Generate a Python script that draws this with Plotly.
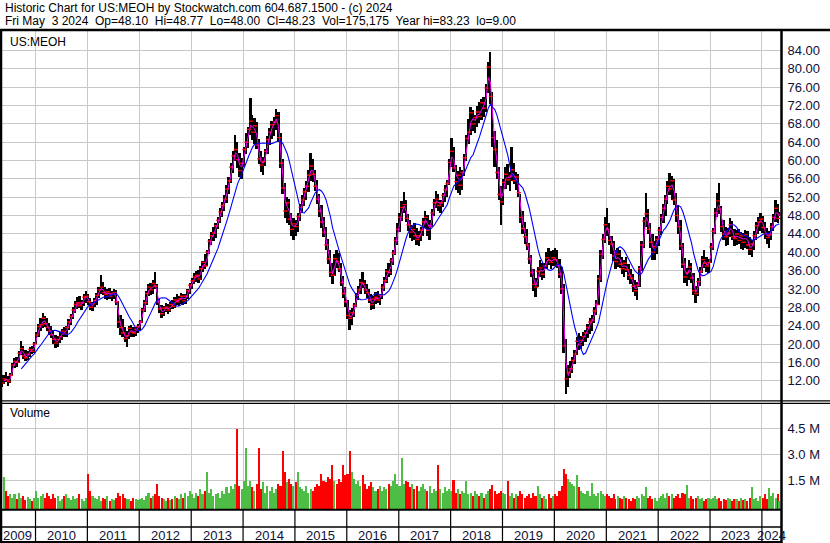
import plotly.graph_objects as go
import pandas as pd

HEADER_1 = "Historic Chart for US:MEOH by Stockwatch.com 604.687.1500 - (c) 2024"
HEADER_2 = "Fri May  3 2024  Op=48.10  Hi=48.77  Lo=48.00  Cl=48.23  Vol=175,175  Year hi=83.23  lo=9.00"
SYMBOL = "US:MEOH"
VOLUME_TITLE = "Volume"

# Semi-monthly bars (1st half / 2nd half of each month), May 2009 .. May 3 2024
FIRST_YEAR, FIRST_MONTH = 2009, 5
LAST_DATE = "2024-05-02"

HIGH = [
    # 2009 (May-Dec)
    12.8, 13.2, 13.9, 13.0, 13.6, 15.8, 17.0, 17.2, 18.5, 20.7, 19.5, 18.6, 18.5, 19.3, 19.5, 20.5,
    # 2010
    22.6, 24.4, 25.6, 26.8, 26.2, 25.6, 24.6, 24.0, 23.0, 22.0, 21.8, 22.6,
    23.2, 23.8, 24.0, 25.4, 26.6, 28.0, 29.4, 30.2, 30.4, 29.6, 30.8, 31.5,
    # 2011
    31.0, 30.0, 29.2, 30.0, 31.2, 32.4, 35.0, 33.6, 32.4, 32.0, 32.2, 31.6,
    32.0, 31.8, 29.4, 26.3, 25.4, 23.8, 22.8, 24.0, 24.2, 23.6, 23.8, 24.4,
    # 2012
    25.2, 27.8, 29.6, 31.6, 33.0, 33.4, 34.0, 35.6, 33.0, 29.8, 28.4, 28.2,
    29.0, 28.8, 29.2, 29.6, 30.2, 30.8, 30.4, 31.2, 31.0, 30.8, 32.0, 33.4,
    # 2013
    34.4, 35.4, 36.0, 36.2, 37.0, 38.2, 39.6, 40.6, 43.0, 44.4, 45.6, 46.4,
    47.8, 49.6, 51.0, 52.4, 54.6, 56.4, 59.4, 62.0, 65.6, 64.0, 61.6, 60.6,
    # 2014
    63.0, 66.0, 67.4, 73.6, 70.0, 69.2, 68.4, 64.6, 62.0, 60.8, 62.6, 65.4,
    67.0, 68.6, 69.6, 71.3, 70.6, 66.0, 60.4, 55.0, 52.0, 51.6, 48.6, 47.4,
    # 2015
    47.0, 48.6, 50.6, 52.4, 54.0, 55.6, 58.0, 61.6, 60.4, 58.0, 55.8, 52.6,
    50.4, 47.6, 45.6, 42.8, 40.4, 37.6, 39.6, 40.5, 39.8, 37.6, 34.8, 32.4,
    # 2016
    29.6, 27.4, 27.8, 29.0, 31.2, 32.6, 34.2, 35.6, 34.0, 33.0, 32.0, 30.8,
    30.4, 31.4, 31.6, 31.0, 33.0, 34.6, 36.4, 37.6, 38.8, 40.6, 43.4, 46.4,
    # 2017
    48.6, 51.2, 53.2, 51.4, 48.4, 47.0, 46.0, 46.4, 45.2, 44.6, 45.6, 47.4,
    49.0, 48.2, 47.0, 49.4, 51.6, 53.4, 52.6, 51.4, 53.0, 54.6, 55.8, 60.4,
    # 2018
    64.9, 63.0, 59.0, 57.8, 58.6, 58.0, 61.4, 65.6, 69.0, 71.6, 71.0, 70.0,
    72.0, 72.8, 73.4, 73.9, 76.6, 81.6, 83.6, 75.0, 66.4, 64.4, 58.6, 54.4,
    # 2019
    56.0, 58.6, 59.2, 57.6, 62.9, 59.4, 57.4, 57.0, 52.6, 49.0, 46.6, 45.0,
    42.0, 39.4, 36.4, 34.4, 36.8, 38.4, 37.6, 37.6, 40.0, 41.0, 40.2, 40.6,
    # 2020
    41.0, 40.4, 38.6, 36.8, 33.0, 21.0, 15.4, 16.4, 17.2, 18.6, 21.6, 22.4,
    21.8, 22.6, 23.0, 24.4, 25.6, 26.4, 28.0, 29.6, 35.0, 40.4, 44.0, 47.6,
    # 2021
    49.6, 46.4, 43.6, 42.4, 40.6, 41.0, 40.4, 39.0, 38.4, 39.0, 37.4, 36.4,
    35.2, 34.0, 33.6, 37.0, 42.4, 47.6, 52.9, 49.4, 46.4, 44.0, 42.4, 43.6,
    # 2022
    45.6, 48.4, 50.6, 52.4, 55.6, 57.3, 56.6, 56.0, 53.0, 50.4, 47.0, 42.0,
    38.8, 36.6, 38.3, 37.6, 35.4, 32.6, 34.4, 36.8, 39.2, 40.5, 39.0, 38.6,
    # 2023
    42.0, 45.4, 49.6, 53.0, 55.0, 50.0, 47.0, 45.6, 45.4, 47.4, 46.8, 45.0,
    44.8, 45.0, 44.4, 44.2, 44.8, 44.6, 43.4, 42.6, 44.6, 46.6, 47.8, 48.5,
    # 2024 (Jan - May 3)
    48.0, 46.6, 45.4, 44.6, 46.4, 48.4, 51.4, 50.6, 48.77,
]

LOW = [
    # 2009
    10.6, 11.2, 11.8, 10.9, 11.5, 13.0, 14.8, 15.0, 15.8, 17.6, 16.8, 16.3, 16.5, 17.2, 17.8, 18.0,
    # 2010
    20.0, 21.6, 22.8, 23.4, 23.6, 22.8, 22.0, 21.4, 20.0, 19.1, 19.4, 20.2,
    20.8, 21.5, 21.6, 23.0, 24.2, 25.5, 26.8, 27.6, 27.8, 27.4, 28.2, 29.0,
    # 2011
    28.5, 27.4, 27.2, 28.0, 28.6, 30.0, 31.0, 30.6, 29.8, 29.6, 29.8, 29.4,
    29.8, 28.6, 23.5, 22.0, 21.6, 20.4, 19.4, 21.2, 21.6, 21.5, 21.8, 22.4,
    # 2012
    23.0, 24.6, 27.0, 28.6, 30.4, 30.6, 31.0, 32.0, 28.6, 26.8, 25.7, 26.0,
    27.0, 26.6, 27.0, 27.6, 27.8, 28.6, 28.2, 28.8, 28.6, 28.8, 29.8, 31.0,
    # 2013
    32.0, 33.0, 33.6, 33.2, 34.0, 35.6, 36.4, 37.0, 39.6, 41.6, 42.4, 43.2,
    45.0, 46.4, 47.6, 49.0, 50.8, 52.6, 55.0, 57.2, 59.8, 58.4, 56.4, 56.0,
    # 2014
    58.6, 61.4, 62.8, 65.6, 64.4, 63.6, 62.6, 59.2, 57.4, 56.9, 58.8, 61.4,
    63.4, 64.6, 65.4, 66.6, 64.0, 58.4, 52.8, 47.4, 46.4, 46.0, 43.6, 42.7,
    # 2015
    43.6, 44.4, 46.8, 48.6, 50.0, 51.4, 53.2, 55.6, 55.4, 53.4, 50.6, 47.8,
    45.4, 43.3, 40.6, 37.4, 34.6, 33.0, 34.8, 36.6, 35.6, 32.6, 30.0, 28.0,
    # 2016
    25.4, 23.0, 24.2, 25.8, 28.0, 29.6, 30.8, 32.2, 31.0, 30.0, 29.0, 27.4,
    27.6, 28.8, 29.0, 28.6, 29.8, 31.6, 33.2, 34.6, 35.0, 37.2, 39.4, 41.6,
    # 2017
    44.4, 46.8, 48.6, 46.6, 44.6, 43.2, 42.4, 42.6, 41.6, 41.4, 42.4, 43.6,
    45.4, 43.6, 42.7, 45.6, 48.0, 49.6, 49.0, 48.6, 49.8, 51.0, 52.0, 54.6,
    # 2018
    58.6, 57.4, 53.6, 53.0, 52.5, 53.6, 56.6, 60.0, 63.6, 65.6, 66.4, 66.0,
    67.4, 68.2, 68.8, 69.4, 70.6, 74.8, 72.4, 63.0, 58.6, 56.0, 51.4, 46.0,
    # 2019
    50.4, 53.8, 54.6, 53.4, 55.6, 54.8, 53.6, 52.0, 46.4, 44.0, 41.8, 40.6,
    37.4, 34.6, 31.6, 30.3, 32.4, 34.6, 34.0, 34.4, 36.4, 37.2, 36.4, 37.0,
    # 2020
    37.0, 36.6, 34.4, 31.0, 18.0, 9.0, 10.6, 12.6, 13.6, 15.6, 17.6, 18.8,
    19.0, 19.6, 20.4, 21.4, 22.2, 22.8, 24.6, 26.4, 28.6, 33.6, 38.6, 42.0,
    # 2021
    43.6, 41.6, 39.6, 38.2, 36.4, 36.8, 36.6, 35.2, 34.6, 35.6, 34.0, 33.0,
    31.4, 30.4, 29.6, 32.4, 36.0, 41.0, 45.6, 44.0, 41.0, 38.3, 38.4, 39.6,
    # 2022
    41.4, 43.8, 46.4, 48.0, 50.6, 52.4, 51.4, 50.4, 46.6, 44.0, 40.4, 36.6,
    33.3, 32.6, 34.0, 33.4, 30.6, 28.9, 30.4, 32.6, 35.4, 36.6, 35.6, 35.4,
    # 2023
    37.6, 40.6, 44.0, 47.6, 48.4, 44.4, 42.6, 41.4, 41.6, 43.4, 42.6, 41.4,
    41.6, 41.8, 40.8, 40.6, 41.0, 40.8, 39.4, 39.0, 40.6, 42.6, 44.0, 44.6,
    # 2024
    44.2, 42.8, 41.8, 41.0, 42.6, 44.6, 46.6, 46.4, 48.0,
]

CLOSE = [
    # 2009
    11.5, 12.4, 12.2, 11.8, 13.2, 15.4, 16.2, 16.0, 18.0, 19.0, 17.4, 17.0, 17.8, 18.8, 18.4, 20.0,
    # 2010
    22.0, 23.8, 24.2, 25.6, 24.4, 23.6, 22.8, 22.0, 21.0, 20.2, 21.0, 21.6,
    22.8, 22.2, 23.6, 24.8, 26.0, 27.4, 28.6, 29.0, 28.4, 29.0, 30.2, 30.4,
    # 2011
    29.2, 28.0, 28.8, 29.5, 30.6, 31.8, 32.4, 31.2, 30.8, 31.4, 30.4, 31.0,
    31.2, 29.2, 24.8, 23.6, 22.4, 21.2, 21.8, 23.4, 22.6, 22.4, 23.2, 23.8,
    # 2012
    24.8, 27.4, 29.0, 31.0, 32.4, 31.8, 33.2, 32.6, 29.2, 27.6, 26.6, 27.8,
    28.0, 27.4, 28.6, 28.2, 29.6, 29.2, 29.8, 30.4, 29.4, 30.4, 31.6, 32.8,
    # 2013
    33.8, 34.6, 35.0, 34.2, 36.4, 37.8, 37.0, 40.0, 42.4, 43.6, 44.2, 45.8,
    47.0, 48.8, 50.2, 51.6, 53.8, 55.6, 58.6, 61.0, 62.4, 60.2, 57.8, 59.4,
    # 2014
    62.4, 64.0, 66.8, 68.6, 66.2, 67.6, 63.4, 60.4, 59.0, 59.8, 62.0, 64.6,
    66.2, 67.8, 68.4, 69.8, 65.0, 59.4, 54.0, 49.0, 50.8, 47.2, 45.0, 46.2,
    # 2015
    45.6, 47.8, 49.8, 51.4, 53.2, 54.4, 56.8, 58.8, 57.0, 54.4, 51.6, 49.0,
    46.6, 44.4, 41.6, 38.6, 35.6, 35.0, 38.6, 38.0, 36.4, 33.4, 31.0, 29.2,
    # 2016
    26.2, 25.6, 26.8, 28.4, 30.6, 31.8, 33.4, 33.2, 31.8, 31.2, 29.6, 28.6,
    29.8, 30.2, 29.6, 30.6, 32.4, 33.8, 35.8, 35.6, 38.2, 39.8, 42.6, 45.0,
    # 2017
    47.6, 49.8, 50.4, 47.4, 46.0, 44.4, 45.0, 43.6, 42.8, 43.6, 44.8, 46.6,
    47.6, 44.8, 45.8, 48.6, 50.8, 51.6, 50.2, 50.8, 52.4, 53.6, 55.0, 59.6,
    # 2018
    62.0, 58.4, 55.4, 56.8, 54.6, 57.4, 60.6, 64.8, 66.2, 70.4, 68.0, 69.4,
    70.6, 69.6, 72.6, 71.4, 75.8, 80.4, 74.0, 65.0, 62.4, 57.4, 52.6, 51.0,
    # 2019
    55.2, 57.0, 55.8, 56.6, 58.0, 55.6, 56.4, 53.0, 47.6, 45.2, 43.4, 41.6,
    38.6, 35.6, 33.0, 32.4, 35.8, 36.6, 35.2, 37.0, 38.8, 38.2, 37.8, 38.8,
    # 2020
    38.4, 37.2, 35.2, 32.0, 19.6, 12.4, 13.8, 14.6, 16.4, 17.8, 20.6, 19.8,
    20.8, 21.6, 22.4, 23.6, 24.8, 25.2, 27.2, 28.6, 34.2, 39.6, 42.8, 46.0,
    # 2021
    45.0, 42.6, 41.8, 39.2, 38.0, 39.6, 37.4, 36.4, 37.6, 36.2, 35.0, 34.4,
    32.6, 31.6, 32.8, 36.4, 41.6, 46.8, 48.4, 45.0, 42.2, 40.0, 41.2, 42.8,
    # 2022
    44.8, 47.6, 49.6, 51.6, 54.4, 53.8, 55.6, 51.4, 48.0, 45.6, 41.4, 37.4,
    34.6, 35.6, 36.8, 34.4, 31.6, 31.0, 33.6, 35.8, 38.4, 37.6, 37.0, 37.8,
    # 2023
    41.2, 44.6, 48.6, 51.2, 49.4, 45.6, 44.0, 43.4, 44.2, 46.0, 43.4, 43.0,
    44.0, 42.6, 43.6, 42.2, 43.8, 41.6, 40.6, 41.8, 43.6, 45.8, 46.6, 47.2,
    # 2024
    45.4, 44.0, 43.2, 43.8, 45.6, 47.6, 49.6, 47.4, 48.23,
]

VOLUME_M = [
    # 2009
    1.0, 1.7, 0.9, 0.6, 0.7, 0.5, 0.7, 0.4, 0.8, 0.5, 0.6, 0.35, 0.55, 0.4, 0.3, 0.5,
    # 2010
    0.9, 0.5, 0.6, 0.7, 0.5, 0.8, 0.6, 0.4, 0.7, 0.5, 0.6, 0.3,
    0.4, 0.6, 0.7, 0.5, 0.35, 0.6, 0.4, 0.5, 0.7, 0.4, 0.3, 0.5,
    # 2011
    1.85, 0.9, 0.6, 0.5, 0.4, 0.6, 0.3, 0.5, 0.4, 0.6, 0.3, 0.4,
    0.35, 0.5, 0.8, 0.6, 0.7, 0.5, 0.45, 0.4, 0.3, 0.5, 0.4, 0.35,
    # 2012
    0.4, 0.5, 0.35, 0.6, 0.8, 0.5, 0.6, 0.7, 1.3, 0.6, 0.5, 0.4,
    0.3, 0.5, 0.35, 0.4, 0.6, 0.5, 0.4, 0.7, 0.5, 0.8, 0.6, 0.9,
    # 2013
    0.7, 0.5, 0.8, 0.6, 1.0, 0.7, 0.9, 2.0, 0.8, 1.0, 0.6, 0.7,
    0.8, 0.5, 0.9, 0.7, 1.1, 0.8, 1.2, 1.0, 1.3, 4.5, 1.2, 1.0,
    # 2014
    1.5, 3.4, 1.2, 1.5, 1.1, 0.9, 1.3, 3.4, 1.0, 1.4, 0.8, 1.2,
    0.9, 1.1, 0.8, 1.0, 1.3, 1.2, 3.2, 2.0, 1.4, 1.6, 1.3, 1.2,
    # 2015
    1.4, 2.0, 1.1, 1.0, 0.9, 1.2, 0.8, 1.0, 0.9, 1.1, 1.3, 1.2,
    1.9, 1.5, 1.4, 1.7, 1.6, 2.4, 1.5, 1.3, 1.6, 1.4, 2.4, 1.8,
    # 2016
    1.9, 3.2, 2.0, 1.6, 1.3, 1.5, 1.2, 1.8, 1.3, 1.0, 1.2, 1.4,
    1.1, 0.9, 1.0, 1.2, 0.9, 1.1, 1.0, 1.3, 1.2, 1.5, 1.85, 1.3,
    # 2017
    1.2, 2.8, 1.3, 1.5, 1.4, 1.1, 1.3, 1.0, 1.2, 0.9, 1.1, 1.3,
    1.0, 0.9, 1.2, 0.8, 1.0, 0.9, 2.4, 1.0, 0.8, 1.1, 0.9, 1.0,
    # 2018
    0.9, 1.55, 0.8, 1.0, 0.7, 0.9, 0.8, 1.45, 0.7, 0.8, 0.6, 0.9,
    0.7, 0.6, 0.8, 0.5, 0.7, 0.9, 1.0, 1.25, 0.9, 0.7, 0.8, 0.9,
    # 2019
    0.8, 0.7, 1.45, 0.6, 0.8, 0.5, 0.7, 0.6, 0.9, 0.7, 0.5, 0.6,
    0.7, 0.5, 0.8, 0.6, 1.2, 0.7, 0.5, 0.6, 0.4, 0.7, 0.5, 0.6,
    # 2020
    0.7, 0.6, 0.9, 1.2, 2.15, 1.85, 1.6, 1.4, 1.3, 1.2, 1.8, 1.1,
    0.9, 0.8, 0.7, 0.9, 0.6, 1.35, 0.7, 0.6, 0.8, 0.9, 0.7, 0.6,
    # 2021
    0.7, 0.6, 0.5, 0.7, 0.4, 0.6, 0.5, 0.4, 0.6, 0.5, 0.4, 0.3,
    0.5, 0.4, 0.6, 0.5, 0.7, 0.6, 1.15, 0.5, 0.6, 0.4, 0.5, 0.3,
    # 2022
    0.5, 0.6, 0.7, 0.5, 0.8, 0.6, 0.7, 0.5, 0.6, 0.7, 0.5, 0.8,
    0.7, 1.25, 0.5, 0.6, 0.4, 0.5, 0.6, 0.4, 0.5, 0.3, 0.4, 0.5,
    # 2023
    0.4, 0.5, 0.6, 0.4, 0.5, 0.3, 0.4, 0.35, 0.5, 0.4, 0.3, 0.45,
    0.4, 0.3, 0.5, 0.35, 0.4, 0.3, 0.5, 1.15, 0.4, 0.5, 0.3, 0.6,
    # 2024
    0.5, 0.7, 0.4, 1.05, 0.6, 0.8, 0.5, 0.7, 0.3,
]

PRICE_TICKS = [12, 16, 20, 24, 28, 32, 36, 40, 44, 48, 52, 56, 60, 64, 68, 72, 76, 80, 84]
VOLUME_TICKS_M = [1.5, 3.0, 4.5]
YEARS = list(range(2009, 2025))

FAST_MA = 2    # periods (about 4 weeks)
SLOW_MA = 10   # periods (about 20 weeks)

N = len(CLOSE)
assert len(HIGH) == N and len(LOW) == N and len(VOLUME_M) == N, (len(HIGH), len(LOW), N, len(VOLUME_M))

# ---- dates -------------------------------------------------------------
dates = []
yy, mm = FIRST_YEAR, FIRST_MONTH
while len(dates) < N:
    for dd in (8, 23):
        dates.append(pd.Timestamp(yy, mm, dd))
    mm += 1
    if mm > 12:
        mm, yy = 1, yy + 1
dates = dates[:N]
dates[-1] = min(dates[-1], pd.Timestamp(LAST_DATE))

close_s = pd.Series(CLOSE)
ma_fast = close_s.rolling(FAST_MA).mean()
ma_slow = close_s.rolling(SLOW_MA).mean()

vol_colors = []
for i in range(N):
    prev = CLOSE[i - 1] if i > 0 else CLOSE[i]
    if CLOSE[i] > prev:
        vol_colors.append("#4DBD45")
    elif CLOSE[i] < prev:
        vol_colors.append("#FF0000")
    else:
        vol_colors.append("#A8A8A8")

# ---- layout geometry (pixels of the 830x543 canvas) ---------------------
W, H = 830, 543
PLOT_RIGHT = 781.5
PRICE_TOP, PRICE_BOTTOM = 31.0, 400.5
VOL_TOP, VOL_BOTTOM = 403.5, 509.3
STRIP_MID, STRIP_BOTTOM = 527.0, 542.0
X_START, X_END = "2009-04-26", "2024-05-18"
PRICE_RANGE = [7.68, 88.25]
VOL_RANGE = [-0.2, 5.94]

def px(x):
    return x / W

def py(y):
    return 1 - y / H

FONT = "Liberation Sans, Arial, sans-serif"
GRID = "#C8C8C8"
LABEL_COLOR = "#101038"

fig = go.Figure()

bar_w = 13 * 86400000
fig.add_trace(go.Bar(
    x=dates, y=[h - l for h, l in zip(HIGH, LOW)], base=LOW,
    width=bar_w, marker=dict(color="#000000", line=dict(width=0)),
    xaxis="x", yaxis="y", showlegend=False, hoverinfo="skip"))
fig.add_trace(go.Scatter(
    x=[d + pd.Timedelta(days=3) for d in dates], y=CLOSE, mode="markers",
    marker=dict(symbol="line-ew", size=3, line=dict(color="#FF0000", width=1.4)),
    xaxis="x", yaxis="y", showlegend=False, hoverinfo="skip"))
fig.add_trace(go.Scatter(
    x=dates, y=ma_fast, mode="lines", line=dict(color="#FF00FF", width=1),
    xaxis="x", yaxis="y", showlegend=False, hoverinfo="skip"))
fig.add_trace(go.Scatter(
    x=dates, y=ma_slow, mode="lines", line=dict(color="#0000FF", width=1.1),
    xaxis="x", yaxis="y", showlegend=False, hoverinfo="skip"))

fig.add_trace(go.Bar(
    x=dates, y=[v - VOL_RANGE[0] for v in VOLUME_M], base=VOL_RANGE[0],
    width=11 * 86400000, marker=dict(color=vol_colors, line=dict(width=0)),
    xaxis="x2", yaxis="y2", showlegend=False, hoverinfo="skip"))

year_starts = [pd.Timestamp(y, 1, 1) for y in YEARS[1:]]

axis_common = dict(
    type="date", range=[X_START, X_END], domain=[0, px(PLOT_RIGHT)],
    tickvals=year_starts, showticklabels=False, ticks="",
    showgrid=True, gridcolor=GRID, gridwidth=1, zeroline=False, showline=False,
)

fig.update_layout(
    width=W, height=H, margin=dict(l=0, r=0, t=0, b=0),
    paper_bgcolor="white", plot_bgcolor="white", bargap=0, barmode="overlay",
    font=dict(family=FONT, size=13, color=LABEL_COLOR),
    xaxis=dict(anchor="y", **axis_common),
    xaxis2=dict(anchor="y2", matches="x", **axis_common),
    yaxis=dict(
        domain=[py(PRICE_BOTTOM), py(PRICE_TOP)], range=PRICE_RANGE, side="right",
        anchor="x", tickvals=PRICE_TICKS, ticktext=[f"{v:.2f}" for v in PRICE_TICKS],
        showgrid=True, gridcolor=GRID, gridwidth=1, zeroline=False, showline=False,
        ticks="", ticklabelstandoff=5, tickfont=dict(size=13, color=LABEL_COLOR)),
    yaxis2=dict(
        domain=[py(VOL_BOTTOM), py(VOL_TOP)], range=VOL_RANGE, side="right",
        anchor="x2", tickvals=VOLUME_TICKS_M, ticktext=[f"{v:.1f} M" for v in VOLUME_TICKS_M],
        showgrid=True, gridcolor=GRID, gridwidth=1, zeroline=False, showline=False,
        ticks="", ticklabelstandoff=5, tickfont=dict(size=13, color=LABEL_COLOR)),
)

shapes = []
def hline(y, x0, x1, w):
    shapes.append(dict(type="line", xref="paper", yref="paper", x0=px(x0), x1=px(x1),
                       y0=py(y), y1=py(y), line=dict(color="black", width=w)))
def vline(x, y0, y1, w):
    shapes.append(dict(type="line", xref="paper", yref="paper", x0=px(x), x1=px(x),
                       y0=py(y0), y1=py(y1), line=dict(color="black", width=w)))

hline(30.0, 0, W, 2.5)
hline(400.8, 0, W, 1.2)
hline(403.4, 0, W, 1.2)
hline(VOL_BOTTOM + 0.5, 0, PLOT_RIGHT, 2)
hline(STRIP_MID, 0, PLOT_RIGHT, 1.5)
hline(STRIP_BOTTOM, 0, PLOT_RIGHT, 2)
vline(1.0, 29, H, 2.5)
vline(PLOT_RIGHT, 29, H, 2.5)
for ys in year_starts:
    shapes.append(dict(type="line", xref="x", yref="paper", x0=ys, x1=ys,
                       y0=py(VOL_BOTTOM), y1=py(STRIP_BOTTOM),
                       line=dict(color="black", width=1.2)))
fig.update_layout(shapes=shapes)

ann = []
NB = "\u00a0"
TITLE_SIZE = 12
ann.append(dict(text=HEADER_1.replace(" ", NB), x=px(3), y=py(7.5), xref="paper", yref="paper",
                xanchor="left", yanchor="middle", showarrow=False,
                font=dict(family=FONT, size=TITLE_SIZE, color="black")))
ann.append(dict(text=HEADER_2.replace(" ", NB), x=px(3), y=py(21), xref="paper", yref="paper",
                xanchor="left", yanchor="middle", showarrow=False,
                font=dict(family=FONT, size=TITLE_SIZE, color="black")))
ann.append(dict(text=SYMBOL, x=px(8), y=py(42), xref="paper", yref="paper",
                xanchor="left", yanchor="middle", showarrow=False,
                font=dict(family=FONT, size=TITLE_SIZE, color="black")))
ann.append(dict(text=VOLUME_TITLE, x=px(8), y=py(413), xref="paper", yref="paper",
                xanchor="left", yanchor="middle", showarrow=False,
                font=dict(family=FONT, size=TITLE_SIZE, color="black")))

x0 = pd.Timestamp(X_START)
x1 = pd.Timestamp(X_END)
for yr in YEARS:
    a = max(pd.Timestamp(yr, 1, 1), x0)
    b = min(pd.Timestamp(yr + 1, 1, 1), x1)
    mid = a + (b - a) / 2
    ann.append(dict(text=str(yr), x=mid, y=py(535), xref="x", yref="paper",
                    xanchor="center", yanchor="middle", showarrow=False,
                    font=dict(family=FONT, size=13, color=LABEL_COLOR)))
fig.update_layout(annotations=ann)

fig.write_html("out.html", config={"displayModeBar": False},
               post_script="document.body.style.margin='0px';")
